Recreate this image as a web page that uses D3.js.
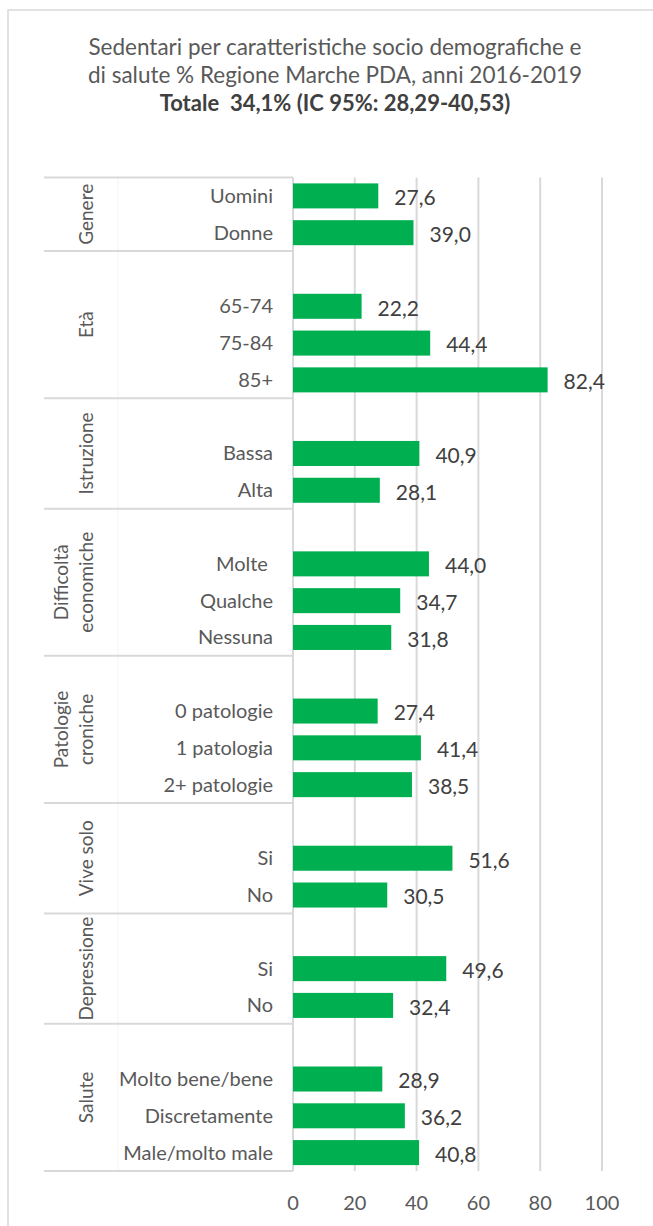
<!DOCTYPE html>
<html>
<head>
<meta charset="utf-8">
<script src="https://cdn.jsdelivr.net/npm/d3@7"></script>
<style>
  html, body { margin: 0; padding: 0; background: #ffffff; }
  svg { display: block; font-family: Lato, "Open Sans", sans-serif; }
</style>
</head>
<body>
<div id="chart"></div>
<script>
// Title lines
const titleLines = [
  "Sedentari per caratteristiche socio demografiche e",
  "di salute % Regione Marche PDA, anni 2016-2019"
];
const titleBold = "Totale  34,1% (IC 95%: 28,29-40,53)";

// Group (outer axis level) labels, split into lines
const groups = [
  ["Genere"],
  ["Età"],
  ["Istruzione"],
  ["Difficoltà", "economiche"],
  ["Patologie", "croniche"],
  ["Vive solo"],
  ["Depressione"],
  ["Salute"]
];

// Category slots (empty strings are spacer rows inside a group)
const categories = [
  "Uomini", "Donne",
  "", "65-74", "75-84", "85+",
  "", "Bassa", "Alta",
  "", "Molte ", "Qualche", "Nessuna",
  "", "0 patologie", "1 patologia", "2+ patologie",
  "", "Si", "No",
  "", "Si", "No",
  "", "Molto bene/bene", "Discretamente", "Male/molto male"
];

// Group index of each slot
const groupOf = [
  0, 0,
  1, 1, 1, 1,
  2, 2, 2,
  3, 3, 3, 3,
  4, 4, 4, 4,
  5, 5, 5,
  6, 6, 6,
  7, 7, 7, 7
];

// Percentage of sedentary people per category
const values = [
  27.6, 39.0,
  null, 22.2, 44.4, 82.4,
  null, 40.9, 28.1,
  null, 44.0, 34.7, 31.8,
  null, 27.4, 41.4, 38.5,
  null, 51.6, 30.5,
  null, 49.6, 32.4,
  null, 28.9, 36.2, 40.8
];

const xTicks = [0, 20, 40, 60, 80, 100];

const W = 653, H = 1226;
const GREEN = "#00B050";
const GRID = "#D9D9D9";
const TEXT = "#595959";
const DARK = "#404040";

const svg = d3.select("#chart").append("svg")
  .attr("width", W).attr("height", H);

svg.append("rect").attr("width", W).attr("height", H).attr("fill", "#fff");

// Chart frame (top and left edges visible)
svg.append("path")
  .attr("d", `M8,${H + 2} L8,10 L${W + 2},10`)
  .attr("fill", "none").attr("stroke", GRID).attr("stroke-width", 1.5);

// Title
const title = svg.append("g").attr("text-anchor", "middle");
titleLines.forEach((t, i) => {
  title.append("text")
    .attr("x", 335).attr("y", 55 + i * 28)
    .attr("font-size", 22.5).attr("fill", TEXT)
    .text(t);
});
title.append("text")
  .attr("x", 335).attr("y", 111)
  .attr("font-size", 22).attr("font-weight", "bold").attr("fill", DARK)
  .style("white-space", "pre")
  .text(titleBold);

// Scales
const plotTop = 177.5, plotBottom = 1171;
const x = d3.scaleLinear().domain([0, 100]).range([293, 602]);
const y = d3.scaleBand()
  .domain(d3.range(categories.length))
  .range([plotTop, plotBottom])
  .paddingInner(0.32).paddingOuter(0.16);

const slotTop = i => y(i) + y.bandwidth() / 2 - y.step() / 2;
const slotBottom = i => y(i) + y.bandwidth() / 2 + y.step() / 2;

// Vertical gridlines
svg.append("g")
  .selectAll("line")
  .data(xTicks.filter(d => d > 0))
  .join("line")
  .attr("x1", d => x(d)).attr("x2", d => x(d))
  .attr("y1", plotTop).attr("y2", plotBottom)
  .attr("stroke", GRID).attr("stroke-width", 2);

// Group extents
const groupSpans = groups.map((g, gi) => {
  const idx = d3.range(categories.length).filter(i => groupOf[i] === gi);
  return { lines: g, top: slotTop(idx[0]), bottom: slotBottom(idx[idx.length - 1]) };
});

// Faint divider between the two label columns
svg.append("line")
  .attr("x1", 118).attr("x2", 118)
  .attr("y1", plotTop).attr("y2", plotBottom)
  .attr("stroke", "#F4F4F4").attr("stroke-width", 1);

// Horizontal group separators across the category axis
const edges = [groupSpans[0].top].concat(groupSpans.map(s => s.bottom));
svg.append("g")
  .selectAll("line")
  .data(edges)
  .join("line")
  .attr("x1", 44).attr("x2", x(0))
  .attr("y1", d => d).attr("y2", d => d)
  .attr("stroke", GRID).attr("stroke-width", 2);

// Category axis line
svg.append("line")
  .attr("x1", x(0)).attr("x2", x(0))
  .attr("y1", plotTop).attr("y2", plotBottom)
  .attr("stroke", GRID).attr("stroke-width", 2);

// Bars
const rows = categories.map((c, i) => ({ i, label: c, value: values[i] }));
svg.append("g")
  .selectAll("rect")
  .data(rows.filter(d => d.value != null))
  .join("rect")
  .attr("x", x(0))
  .attr("y", d => y(d.i))
  .attr("width", d => x(d.value) - x(0))
  .attr("height", y.bandwidth())
  .attr("fill", GREEN);

// Value labels
const fmt = v => d3.format(".1f")(v).replace(".", ",");
svg.append("g")
  .selectAll("text")
  .data(rows.filter(d => d.value != null))
  .join("text")
  .attr("x", d => x(d.value) + 16)
  .attr("y", d => y(d.i) + y.bandwidth() / 2 + 2)
  .attr("dy", "0.35em")
  .attr("font-size", 21)
  .attr("fill", DARK)
  .text(d => fmt(d.value));

// Category labels
svg.append("g")
  .attr("text-anchor", "end")
  .selectAll("text")
  .data(rows.filter(d => d.label !== ""))
  .join("text")
  .attr("x", 273)
  .attr("y", d => y(d.i) + y.bandwidth() / 2)
  .attr("dy", "0.35em")
  .attr("font-size", 20)
  .attr("fill", TEXT)
  .style("white-space", "pre")
  .text(d => d.label);

// Group labels, rotated
const gl = svg.append("g").attr("text-anchor", "middle");
groupSpans.forEach(s => {
  const cy = (s.top + s.bottom) / 2;
  const n = s.lines.length;
  s.lines.forEach((line, k) => {
    const bx = 92.5 - (n - 1 - k) * 25;
    gl.append("text")
      .attr("transform", `translate(${bx},${cy}) rotate(-90)`)
      .attr("font-size", 19)
      .attr("fill", TEXT)
      .text(line);
  });
});

// Value axis tick labels
svg.append("g")
  .attr("text-anchor", "middle")
  .selectAll("text")
  .data(xTicks)
  .join("text")
  .attr("x", d => x(d))
  .attr("y", 1210)
  .attr("font-size", 20)
  .attr("fill", TEXT)
  .text(d => d);
</script>
</body>
</html>
